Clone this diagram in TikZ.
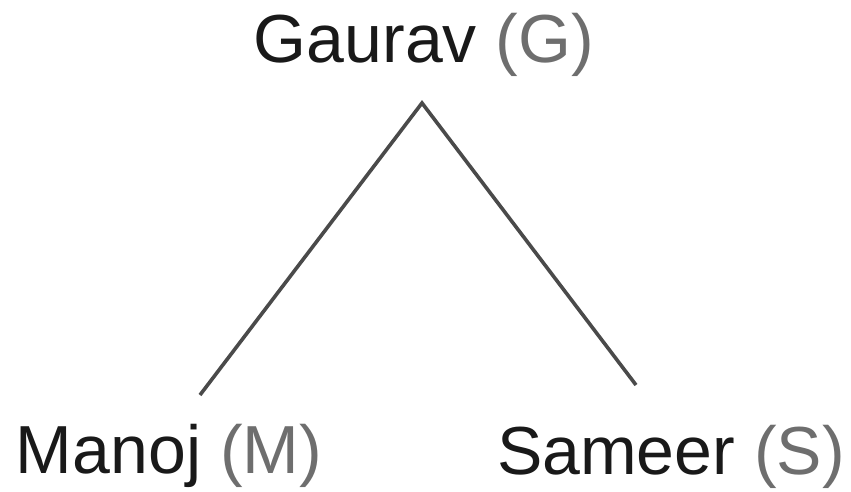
\documentclass[tikz,border=0pt]{standalone}
\usepackage{fontspec}
\setmainfont{Liberation Sans}
\usepackage{xcolor}
\usetikzlibrary{positioning}
\definecolor{edgegray}{HTML}{4A4A4A}
\definecolor{initgray}{HTML}{6E6E6E}

\begin{document}
\begin{tikzpicture}[x=1pt, y=-1pt, every node/.style={font=\fontsize{68}{80}\selectfont, inner sep=0pt, anchor=base},
    person/.style={text=black!90},
    branch/.style={draw=edgegray, line width=3.6pt}]
  % frame, same size as the reference
  \useasboundingbox (0,0) rectangle (851,491);

  % the three people
  \node[person] (gaurav) at (424,62) {Gaurav \textcolor{initgray}{(G)}};
  \node[person] (manoj) at (169,473) {Manoj \textcolor{initgray}{(M)}};
  \node[person] (sameer) at (671,474) {Sameer \textcolor{initgray}{(S)}};

  % ends of the two branches
  \coordinate (apex) at (422,103);
  \coordinate (mleg) at (200,395);
  \coordinate (sleg) at (636,385);

  \draw[branch, line join=miter] (mleg) -- (apex) -- (sleg);

\end{tikzpicture}
\end{document}
